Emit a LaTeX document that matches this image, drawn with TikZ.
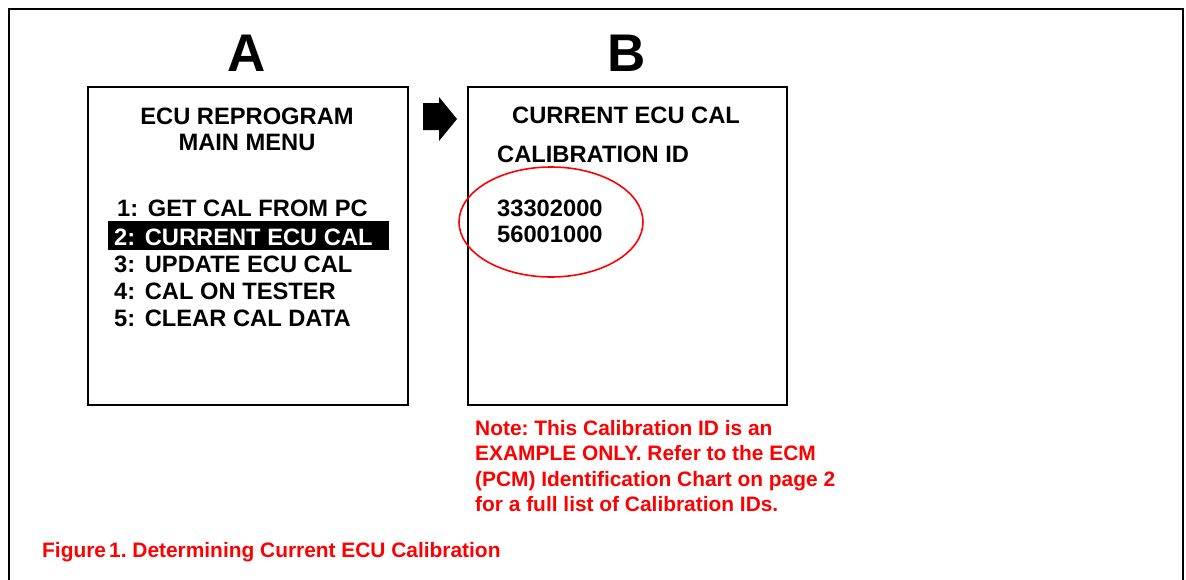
\documentclass[tikz,border=0pt]{standalone}
\usepackage{fontspec}
\setmainfont{Liberation Sans}
\usetikzlibrary{shapes.geometric}
\definecolor{notered}{RGB}{255,0,0}
\frenchspacing
\tikzset{
  screen/.style={draw=black, line width=2pt},
  big/.style={font=\fontsize{53}{53}\selectfont\bfseries, inner sep=0pt, anchor=base},
  menu/.style={font=\fontsize{23.7}{23.7}\selectfont\bfseries, inner sep=0pt, anchor=base west},
  head/.style={font=\fontsize{23.7}{23.7}\selectfont\bfseries, inner sep=0pt, anchor=base},
  note/.style={font=\fontsize{20.9}{20.9}\selectfont\bfseries, text=notered, inner sep=0pt, anchor=base west},
}
\newcommand{\mgap}{\hspace{3pt}}
\begin{document}
\begin{tikzpicture}[x=1pt,y=-1pt]
\useasboundingbox (0,0) rectangle (1186,579);
% outer frame (open at the bottom)
\draw[line width=2.4pt] (9,600) -- (9,9) -- (1183,9) -- (1183,600);
% screens
\node[screen, minimum width=320pt, minimum height=318pt, inner sep=0pt, anchor=north west] (scrA) at (87,86) {};
\node[screen, minimum width=319pt, minimum height=318pt, inner sep=0pt, anchor=north west] (scrB) at (467,86) {};
% titles
\node[big] (tA) at (247,71) {A};
\node[big] (tB) at (627,71) {B};
% arrow
\fill (423,103) -- (439,103) -- (439,97) -- (457,119) -- (439,141) -- (439,130) -- (423,130) -- cycle;
% screen A
\node[head] (a1) at (247,124) {ECU REPROGRAM};
\node[head] (a2) at (247,150) {MAIN MENU};
\node[menu] (m1) at (117,216) {1:\mgap{} GET CAL FROM PC};
\fill (108,221) rectangle (389,250);
\node[menu, text=white] (m2) at (114,245) {2:\mgap{} CURRENT ECU CAL};
\node[menu] (m3) at (114,272) {3:\mgap{} UPDATE ECU CAL};
\node[menu] (m4) at (114,299) {4:\mgap{} CAL ON TESTER};
\node[menu] (m5) at (114,326) {5:\mgap{} CLEAR CAL DATA};
% screen B
\node[menu] (b1) at (512,123) {CURRENT ECU CAL};
\node[menu] (b2) at (497,162) {CALIBRATION ID};
\node[menu] (b3) at (497,216) {33302000};
\node[menu] (b4) at (497,242) {56001000};
\draw[notered, line width=1.6pt] (551,222) ellipse [x radius=92, y radius=55];
% note
\node[note] (n1) at (475,435) {Note: This Calibration ID is an};
\node[note] (n2) at (475,460) {EXAMPLE ONLY. Refer to the ECM};
\node[note] (n3) at (475,486) {(PCM) Identification Chart on page 2};
\node[note] (n4) at (475,511) {for a full list of Calibration IDs.};
% caption
\node[note] (cap) at (42,557) {Figure\hspace{0.15em}1. Determining Current ECU Calibration};
\end{tikzpicture}
\end{document}
